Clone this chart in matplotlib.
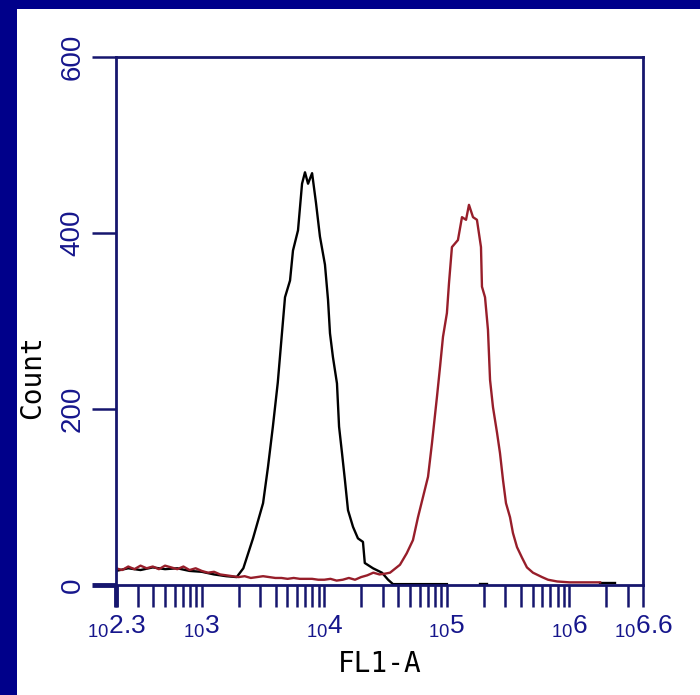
import numpy as np
import matplotlib
matplotlib.use('Agg')
import matplotlib.pyplot as plt
from matplotlib.patches import Rectangle
from matplotlib.ticker import FixedLocator, FixedFormatter, NullFormatter

navy = '#00008a'
spine_c = '#16166e'
label_c = '#16168c'

# log10(FL1-A) positions and counts
black_x = [2.30, 2.40, 2.50, 2.60, 2.70, 2.80, 2.90, 3.00, 3.10, 3.20, 3.285,
           3.339, 3.418, 3.50, 3.54, 3.58, 3.62, 3.654, 3.679, 3.72, 3.744,
           3.785, 3.818, 3.842, 3.867, 3.90, 3.932, 3.964, 4.005, 4.03, 4.046,
           4.07, 4.103, 4.12, 4.144, 4.168, 4.193, 4.234, 4.274, 4.315, 4.33,
           4.397, 4.47, 4.52, 4.56, 4.70, 4.85, 5.00]
black_y = [16, 19, 17, 20, 18, 19, 16, 15, 12, 10, 9,
           19, 53, 93, 134, 180, 230, 286, 327, 346, 380,
           403, 456, 469, 456, 468, 434, 396, 364, 324, 286,
           259, 229, 180, 150, 119, 85, 66, 53, 49, 25,
           19, 14, 6, 1, 1, 1, 1]
black_tail_x = [5.27, 5.33, np.nan, 6.25, 6.37]
black_tail_y = [1, 1, np.nan, 2, 2]

red_x = [2.30, 2.35, 2.40, 2.45, 2.50, 2.55, 2.60, 2.65, 2.70, 2.75, 2.80,
         2.85, 2.90, 2.95, 3.00, 3.05, 3.10, 3.15, 3.20, 3.25, 3.30, 3.35,
         3.40, 3.45, 3.50, 3.55, 3.60, 3.65, 3.70, 3.75, 3.80, 3.85, 3.90,
         3.95, 4.00, 4.05, 4.10, 4.15, 4.20, 4.25, 4.30, 4.35, 4.40, 4.45,
         4.50, 4.536, 4.617, 4.672, 4.723, 4.764, 4.805, 4.846, 4.878, 4.919,
         4.944, 4.968, 5.00, 5.017, 5.041, 5.09, 5.123, 5.156, 5.18, 5.213,
         5.245, 5.278, 5.286, 5.311, 5.335, 5.352, 5.376, 5.409, 5.433, 5.458,
         5.482, 5.515, 5.539, 5.572, 5.613, 5.653, 5.702, 5.776, 5.825, 5.90,
         6.00, 6.10, 6.20, 6.25]
red_y = [19, 17, 21, 18, 22, 19, 21, 18, 22, 20, 18,
         21, 17, 19, 16, 14, 15, 12, 11, 10, 9, 10,
         8, 9, 10, 9, 8, 8, 7, 8, 7, 7, 7,
         6, 6, 7, 5, 6, 8, 6, 9, 11, 14, 12,
         13, 14, 23, 36, 51, 77, 100, 123, 161, 214,
         248, 282, 309, 343, 384, 392, 418, 415, 432, 418,
         415, 384, 339, 327, 290, 233, 202, 173, 150, 119,
         93, 77, 59, 43, 31, 20, 14, 9, 6, 4,
         3, 3, 3, 3]

x_major_exp = [2.3, 3, 4, 5, 6, 6.6]
x_major_lbl = ['2.3', '3', '4', '5', '6', '6.6']
x_minor = [m * 10 ** d for d in range(2, 7) for m in range(2, 10)]
y_ticks = [0, 200, 400, 600]

plt.rcParams['font.family'] = ['Liberation Sans', 'DejaVu Sans']
plt.rcParams['mathtext.fontset'] = 'custom'
plt.rcParams['mathtext.rm'] = 'Liberation Sans'
plt.rcParams['mathtext.default'] = 'regular'

fig = plt.figure(figsize=(7, 6.95), dpi=100, facecolor=navy)
fig.patches.append(Rectangle((17 / 700, 0), 1, 686 / 695, transform=fig.transFigure,
                             facecolor='white', edgecolor='none', zorder=-10))
ax = fig.add_axes([116 / 700, 110 / 695, 527 / 700, 528 / 695])

ax.plot(10 ** np.array(black_x), black_y, color='black', lw=1.7)
ax.plot(10 ** np.array(black_tail_x), black_tail_y, color='black', lw=1.7)
ax.plot(10 ** np.array(red_x), red_y, color='#971e2a', lw=1.7)

ax.set_xscale('log')
ax.set_xlim(10 ** 2.3, 10 ** 6.6)
ax.set_ylim(0, 600)

lo, hi = ax.get_xlim()
ax.xaxis.set_major_locator(FixedLocator([10 ** e for e in x_major_exp]))
ax.xaxis.set_major_formatter(FixedFormatter([r'$_{10}$' + s for s in x_major_lbl]))
ax.xaxis.set_minor_locator(FixedLocator([v for v in x_minor if lo < v < hi]))
ax.xaxis.set_minor_formatter(NullFormatter())
ax.set_yticks(y_ticks)

for s in ax.spines.values():
    s.set_color(spine_c)
    s.set_linewidth(2)

ax.tick_params(axis='x', which='both', direction='out', length=16, width=1.8,
               color=spine_c, labelcolor=label_c, labelsize=19, pad=5)
ax.tick_params(axis='y', direction='out', length=17, width=1.8, color=spine_c,
               labelcolor=label_c, labelsize=20, pad=5, labelrotation=90)
for lbl in ax.get_yticklabels():
    lbl.set_va('center')

ax.xaxis.get_major_ticks()[0].tick1line.set_color('#0000d0')
ax.xaxis.get_major_ticks()[0].tick1line.set_markeredgewidth(3.5)
ax.yaxis.get_major_ticks()[0].tick1line.set_color('#0000d0')
ax.yaxis.get_major_ticks()[0].tick1line.set_markeredgewidth(3.5)

ax.set_ylabel('Count', family='DejaVu Sans Mono', fontsize=20, color='black')
ax.yaxis.set_label_coords(-0.133, 0.394)
ax.set_xlabel('FL1-A', family='DejaVu Sans Mono', fontsize=20, color='black')
ax.xaxis.set_label_coords(0.5, -0.123)

fig.savefig('out.png', dpi=100, facecolor=navy)
